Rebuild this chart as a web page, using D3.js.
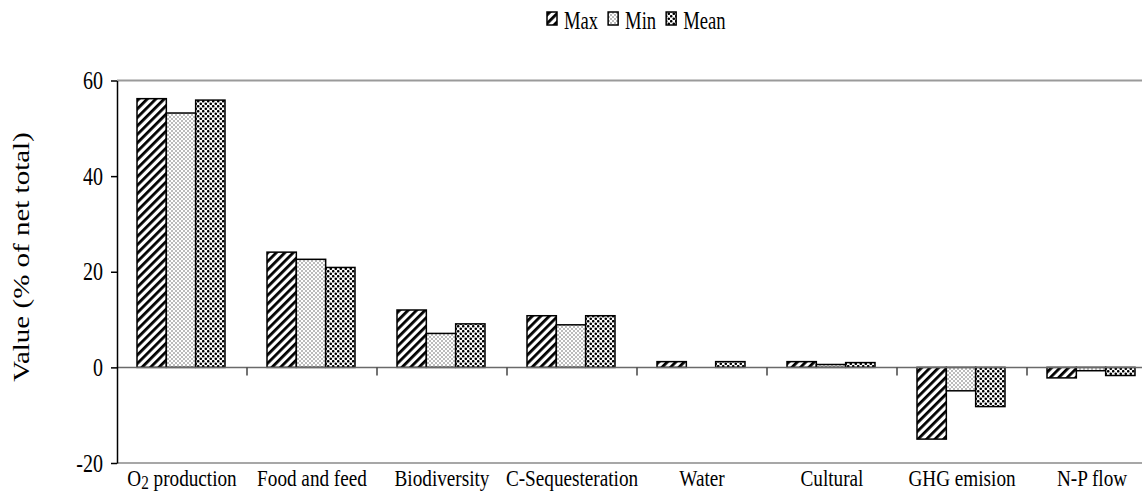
<!DOCTYPE html>
<html>
<head>
<meta charset="utf-8">
<script src="https://cdn.jsdelivr.net/npm/d3@7"></script>
<style>
  html, body { margin: 0; padding: 0; background: #fff; }
  svg { display: block; }
  svg text { font-family: "Liberation Serif", "DejaVu Serif", serif !important; fill: #000; }
</style>
</head>
<body>
<svg id="chart" width="1142" height="493"></svg>
<script>
const categories = ["O2 production", "Food and feed", "Biodiversity", "C-Sequesteration", "Water", "Cultural", "GHG emision", "N-P flow"];
const seriesNames = ["Max", "Min", "Mean"];
const maxValues  = [56.2, 24.1, 12.0, 10.8, 1.2, 1.2, -15.0, -2.2];
const minValues  = [53.2, 22.6, 7.1, 8.9, 0.0, 0.6, -4.9, -0.7];
const meanValues = [55.9, 20.9, 9.1, 10.8, 1.2, 1.0, -8.2, -1.7];
const yTicks = [-20, 0, 20, 40, 60];

const FONT = "'Liberation Serif', 'DejaVu Serif', serif";
const seriesValues = [maxValues, minValues, meanValues];
const svg = d3.select("#chart");
const defs = svg.append("defs");

// Patterns
const pMax = defs.append("pattern").attr("id", "pat-Max")
  .attr("patternUnits", "userSpaceOnUse").attr("width", 6).attr("height", 6)
  .attr("patternTransform", "rotate(45)");
pMax.append("rect").attr("width", 6).attr("height", 6).attr("fill", "#fff");
pMax.append("rect").attr("x", 0).attr("width", 2.8).attr("height", 6).attr("fill", "#000");

const pMin = defs.append("pattern").attr("id", "pat-Min")
  .attr("patternUnits", "userSpaceOnUse").attr("width", 4).attr("height", 4);
pMin.append("rect").attr("width", 4).attr("height", 4).attr("fill", "#fff");
pMin.append("circle").attr("cx", 1).attr("cy", 1).attr("r", 0.8).attr("fill", "#666");
pMin.append("circle").attr("cx", 3).attr("cy", 3).attr("r", 0.8).attr("fill", "#666");

const pMean = defs.append("pattern").attr("id", "pat-Mean")
  .attr("patternUnits", "userSpaceOnUse").attr("width", 5).attr("height", 5);
pMean.append("rect").attr("width", 5).attr("height", 5).attr("fill", "#fff");
pMean.append("circle").attr("cx", 1.25).attr("cy", 1.25).attr("r", 1.3).attr("fill", "#000");
pMean.append("circle").attr("cx", 3.75).attr("cy", 3.75).attr("r", 1.3).attr("fill", "#000");

// Scales
const x0 = d3.scaleBand().domain(categories).range([117, 1157]).paddingInner(0).paddingOuter(0);
const x1 = d3.scaleBand().domain(seriesNames).range([20, 108]);
const y = d3.scaleLinear().domain([-20, 60]).range([463, 80.5]);

// Frame lines
svg.append("line").attr("x1", 117).attr("x2", 1142).attr("y1", y(60)).attr("y2", y(60))
  .attr("stroke", "#9a9a9a").attr("stroke-width", 2);
svg.append("line").attr("x1", 117).attr("x2", 1142).attr("y1", y(-20)).attr("y2", y(-20))
  .attr("stroke", "#8a8a8a").attr("stroke-width", 1.5);

// Bars
const groups = svg.append("g").selectAll("g").data(categories).join("g")
  .attr("transform", d => `translate(${x0(d)},0)`);
groups.selectAll("rect")
  .data((c, i) => seriesNames.map((s, k) => ({ s, v: seriesValues[k][i] })))
  .join("rect")
  .filter(d => d.v !== 0)
  .attr("x", d => x1(d.s))
  .attr("width", x1.bandwidth())
  .attr("y", d => y(Math.max(0, d.v)))
  .attr("height", d => Math.abs(y(d.v) - y(0)))
  .attr("fill", d => `url(#pat-${d.s})`)
  .attr("stroke", "#000").attr("stroke-width", 1.5);

// Zero axis line
svg.append("line").attr("x1", 117).attr("x2", 1142).attr("y1", y(0)).attr("y2", y(0))
  .attr("stroke", "#6a6a6a").attr("stroke-width", 1.5);
// Category boundary ticks
svg.append("g").selectAll("line").data(categories.slice(1)).join("line")
  .attr("x1", d => x0(d)).attr("x2", d => x0(d))
  .attr("y1", y(0)).attr("y2", y(0) + 8)
  .attr("stroke", "#444").attr("stroke-width", 1.5);

// Y axis
const yAxis = svg.append("g").attr("transform", "translate(117,0)")
  .call(d3.axisLeft(y).tickValues(yTicks).tickSize(6).tickSizeOuter(0).tickFormat(d => String(d)));
yAxis.attr("font-family", FONT);
yAxis.select(".domain").attr("stroke", "#000").attr("stroke-width", 1.5);
yAxis.selectAll(".tick line").attr("stroke", "#000").attr("stroke-width", 1.5);
yAxis.selectAll(".tick text")
  .attr("x", -14 / 0.8).attr("dy", "0.32em")
  .attr("transform", "scale(0.8,1)")
  .style("font-size", "25px").attr("fill", "#000");

// Category labels
const catLabels = svg.append("g").selectAll("text").data(categories).join("text")
  .attr("transform", d => `translate(${x0(d) + x0.bandwidth() / 2},486) scale(0.8,1)`)
  .attr("text-anchor", "middle")
  .style("font-size", "24px");
catLabels.each(function(d) {
  const t = d3.select(this);
  if (d.startsWith("O2")) {
    t.append("tspan").text("O");
    t.append("tspan").attr("dy", 3).style("font-size", "19px").text("2");
    t.append("tspan").attr("dy", -3).text(d.slice(2));
  } else {
    t.text(d);
  }
});

// Y title
svg.append("text")
  .attr("transform", "translate(29,257) scale(0.8,1) rotate(-90)")
  .attr("text-anchor", "middle")
  .style("font-size", "29px")
  .text("Value (% of net total)");

// Legend
const legend = svg.append("g");
let lx = 547;
seriesNames.forEach(s => {
  legend.append("rect").attr("x", lx).attr("y", 12).attr("width", 10).attr("height", 13)
    .attr("fill", `url(#pat-${s})`).attr("stroke", "#000").attr("stroke-width", 1.5);
  const t = legend.append("text")
    .attr("transform", `translate(${lx + 17},29) scale(0.76,1)`)
    .style("font-size", "24.5px").text(s);
  const w = t.node().getComputedTextLength() * 0.76;
  lx += 17 + w + 10;
});
</script>
</body>
</html>
